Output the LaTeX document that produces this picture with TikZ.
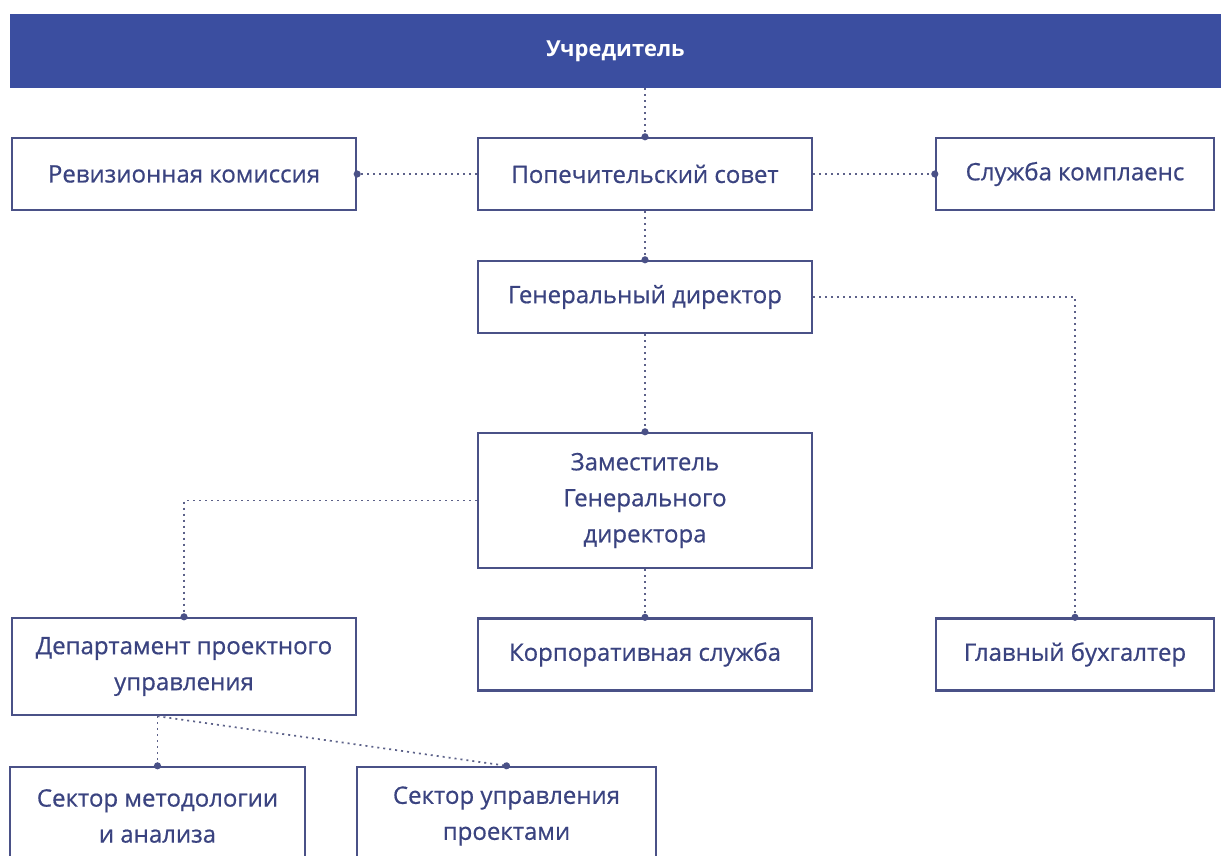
\documentclass[tikz,border=0pt]{standalone}
\usepackage{fontspec}
\setmainfont{Open Sans}
\newfontfamily\unitfont{Open Sans}[FakeBold=0.6]
\usetikzlibrary{arrows.meta}
\definecolor{barblue}{HTML}{3B4EA0}
\definecolor{boxline}{HTML}{4A5187}
\definecolor{boxtext}{HTML}{3A4380}
\definecolor{linkgray}{HTML}{5C6189}
\tikzset{
    org/.style={
        unit/.append style={draw=boxline,line width=1.2pt,fill=white,text=boxtext,align=center,inner sep=0pt,font=\unitfont\fontsize{12}{18}\selectfont},
        head/.append style={fill=barblue,text=white,inner sep=0pt,font=\bfseries\fontsize{11}{13}\selectfont},
        link/.append style={draw=linkgray,line width=0.85pt,dash pattern=on 1pt off 2pt},
        dotend/.append style={-{Circle[length=3.5pt,color=boxline]},shorten >=-1.75pt},
        wide/.append style={minimum width=172pt},
        mid/.append style={minimum width=167pt},
        narrow/.append style={minimum width=139pt},
        row/.append style={minimum height=36pt}
    }
}

\begin{document}
\begin{tikzpicture}[org,x=0.5pt,y=-0.5pt]
    \clip (0,0) rectangle (1221,856);
    \fill[white] (0,0) rectangle (1221,856);

    \node[head,minimum width=605.5pt,minimum height=37pt] (bar) at (615.5,51) {Учредитель};

    \node[unit,wide,row] (rev) at (184,174) {Ревизионная комиссия};
    \node[unit,mid,row] (pop) at (645,174) {Попечительский совет};
    \node[unit,narrow,row] (comp) at (1075,174) {Служба комплаенс};
    \node[unit,mid,row] (gen) at (645,297) {Генеральный директор};
    \node[unit,mid,minimum height=67.5pt] (zam) at (645,500.5) {Заместитель\\Генерального\\директора};
    \node[unit,wide,minimum height=48.5pt] (dept) at (184,666.5) {Департамент проектного\\управления};
    \node[unit,mid,row] (korp) at (645,654.5) {Корпоративная служба};
    \node[unit,narrow,row] (glav) at (1075,654.5) {Главный бухгалтер};
    \node[unit,minimum width=147.5pt,minimum height=49pt] (sm) at (157.5,816) {Сектор методологии\\и анализа};
    \node[unit,minimum width=149.5pt,minimum height=49pt] (su) at (506.5,816) {Сектор управления\\проектами};

    \draw[link,dotend] (bar.south -| pop.north) -- (pop.north);
    \draw[link,dotend] (pop.west) -- (rev.east);
    \draw[link,dotend] (pop.east) -- (comp.west);
    \draw[link,dotend] (pop.south) -- (gen.north);
    \draw[link,dotend] (gen.south) -- (zam.north);
    \draw[link,dotend] (gen.east) -| (glav.north);
    \draw[link,dotend] (zam.west) -| (dept.north);
    \draw[link,dotend] (zam.south) -- (korp.north);
    \coordinate (split) at (dept.south -| sm.north);
    \draw[link,dotend] (split) -- (sm.north);
    \draw[link,dotend] (split) -- (su.north);
\end{tikzpicture}
\end{document}
